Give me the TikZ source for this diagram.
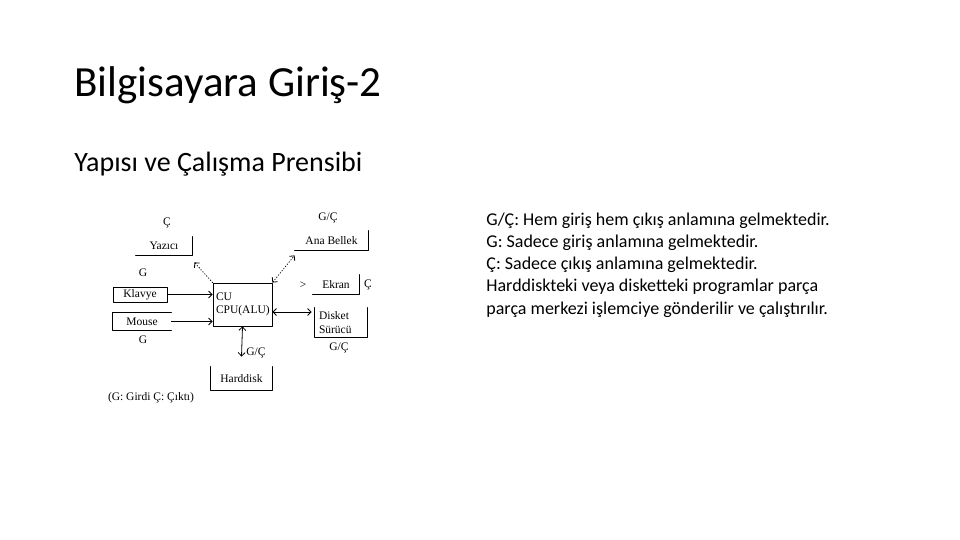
\documentclass[tikz,border=0pt]{standalone}
\usepackage{fontspec}
\setmainfont{Carlito}
\newfontfamily\semafont{Liberation Serif}
\usetikzlibrary{arrows.meta}
\begin{document}
\begin{tikzpicture}[>={Straight Barb[length=3.5pt,width=7pt]}, x=1pt, y=-1pt, line join=round, line cap=round,
        line width=0.8pt,
        sema/.style={font=\semafont\fontsize{11.5}{13.5}\selectfont, inner sep=0pt},
        kutu/.style={sema, align=center},
        satir/.style={anchor=base west, inner sep=0pt, font=\fontsize{18}{22}\selectfont}]
    \useasboundingbox (0,0) rectangle (960,540);
    \fill[white] (0,0) rectangle (960,540);
    % basliklar
    \node[anchor=base west, inner sep=0pt, font=\fontsize{43}{50}\selectfont] (baslik) at (74,96.7) {Bilgisayara Giriş-2};
    \node[anchor=base west, inner sep=0pt, font=\fontsize{28}{34}\selectfont] (altbaslik) at (74,171.7) {Yapısı ve Çalışma Prensibi};
    % aciklama
    \node[satir] (satir1) at (486,225.3) {G/Ç: Hem giriş hem çıkış anlamına gelmektedir.};
    \node[satir] (satir2) at (486,247.5) {G: Sadece giriş anlamına gelmektedir.};
    \node[satir] (satir3) at (486,269.7) {Ç: Sadece çıkış anlamına gelmektedir.};
    \node[satir] (satir4) at (486,291.9) {Harddiskteki veya disketteki programlar parça};
    \node[satir] (satir5) at (486,314.1) {parça merkezi işlemciye gönderilir ve çalıştırılır.};
    % kutular
    \node[kutu, minimum width=59, minimum height=43, draw, align=left, text width=53] (cpu) at (242.5,304.5) {CU\\CPU(ALU)};
    \node[kutu, minimum width=54, minimum height=15, draw] (klavye) at (140,294.5) {Klavye};
    \node[kutu, minimum width=58, minimum height=17] (mouse) at (142,321.5) {Mouse};
    \node[kutu, minimum width=56, minimum height=18] (yazici) at (164,246) {Yazıcı};
    \node[kutu, minimum width=73, minimum height=19] (bellek) at (331.5,240.5) {Ana Bellek};
    \node[kutu, minimum width=46, minimum height=19] (ekran) at (336,284.5) {Ekran};
    \node[kutu, minimum width=52, minimum height=29, align=left, text width=44] (disket) at (341,322.5) {Disket\\Sürücü};
    \node[kutu, minimum width=61, minimum height=23] (harddisk) at (241.5,378.5) {Harddisk};
    \draw (mouse.north east) -- (mouse.north west) -- (mouse.south west) -- (mouse.south east);
    \draw (yazici.south west) -- (yazici.south east) -- (yazici.north east);
    \draw (bellek.south west) -- (bellek.south east) -- (bellek.north east);
    \draw (ekran.south west) -- (ekran.south east) -- (ekran.north east);
    \draw (disket.north west) -- (disket.south west) -- (disket.south east) -- (disket.north east);
    \draw (harddisk.north west) -- (harddisk.south west) -- (harddisk.south east) -- (harddisk.north east);
    % etiketler
    \node[sema] (yaziciC) at (167,223) {Ç};
    \node[sema] (klavyeG) at (143,273) {G};
    \node[sema] (mouseG) at (143,340) {G};
    \node[sema] (bellekGC) at (328,218) {G/Ç};
    \node[sema] (ekranC) at (368,285) {Ç};
    \node[sema] (ekranok) at (303,285) {>};
    \node[sema] (disketGC) at (339,348) {G/Ç};
    \node[sema] (harddiskGC) at (256,353) {G/Ç};
    \node[sema] (aciklamaGC) at (151,398) {(G: Girdi Ç: Çıktı)};
    % baglantilar
    \draw[->] (klavye.east) -- (klavye.east -| cpu.west);
    \draw[->] (mouse.east) -- (mouse.east -| cpu.west);
    \draw[->, dotted] (cpu.north west) -- ([shift={(2,7)}]yazici.south east);
    \draw[<->, dotted] (cpu.north east) -- ([shift={(0,5)}]bellek.south west);
    \draw[<->] ([shift={(0,7.5)}]cpu.east) -- ([shift={(-3,-10.5)}]disket.west);
    \draw[<->] (cpu.south) -- ([shift={(0,-10)}]harddisk.north);
\end{tikzpicture}
\end{document}
